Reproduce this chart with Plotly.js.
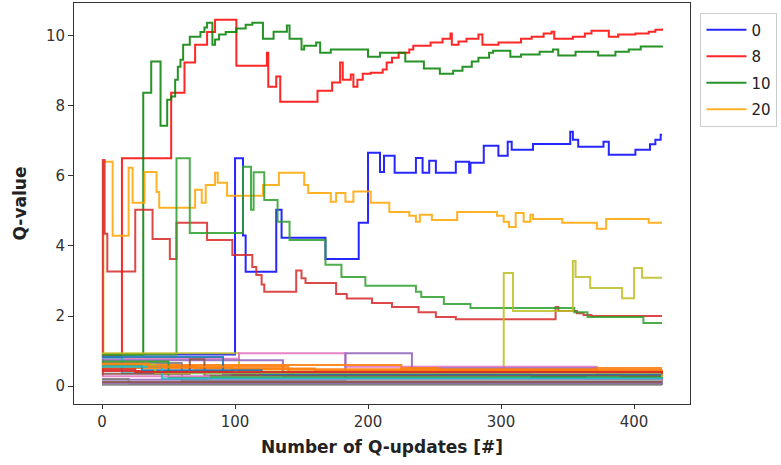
<!DOCTYPE html>
<html>
<head>
<meta charset="utf-8">
<script src="https://cdn.plot.ly/plotly-3.0.1.min.js"></script>
<style>html,body{margin:0;padding:0;background:#fff;}#chart{width:781px;height:465px;}</style>
</head>
<body>
<div id="chart"></div>
<script>
// ---- Labelled series (legend) ----
const blueX = [0,100,106,108,131,135,168,193,200,209,212,220,236,241,246,251,266,276,277,287,298,305,308,324,352,354,358,377,381,401,412,416,420,421];
const blueY = [0.9,6.5,4.3,3.26,5.03,4.23,3.63,4.66,6.66,6.11,6.57,6.09,6.51,6.09,6.43,6.09,6.4,6.09,6.37,6.86,6.57,6.97,6.74,6.91,7.26,7.03,6.83,6.97,6.6,6.74,6.9,7.03,7.17,7.17];

const redX = [0,15,52,62,70,79,85,101,124,125,131,134,162,173,179,181,187,189,192,196,202,211,214,218,223,231,234,247,256,262,263,268,274,283,286,298,315,323,332,338,340,354,363,368,381,388,401,411,416,421];
const redY = [0.9,6.5,8.37,9.23,9.74,10.1,10.45,9.14,9.51,8.54,8.83,8.11,8.43,8.66,9.23,8.74,8.89,8.54,8.74,8.91,8.94,9.03,9.23,9.37,9.51,9.6,9.71,9.8,9.91,10.06,9.74,9.83,9.91,10.03,9.74,9.8,9.91,9.97,10.06,10.11,9.91,9.97,10.06,10.14,9.97,10.03,10.06,10.11,10.17,10.2];

const greenX = [0,31,37,44,49,52,55,57,59,61,66,74,77,79,83,85,88,93,101,108,113,121,129,139,141,150,152,161,164,172,200,209,228,242,254,264,271,278,283,291,294,307,315,329,339,343,356,373,386,396,405,421];
const greenY = [0.9,8.37,9.26,7.43,8.17,8.26,8.74,9.11,9.31,9.74,9.97,10.1,10.23,10.37,9.74,9.89,10.03,10.1,10.2,10.31,10.37,9.91,10.11,10.29,9.91,9.6,9.71,9.8,9.51,9.6,9.4,9.51,9.26,9.06,8.91,9.0,9.11,9.26,9.37,9.51,9.57,9.4,9.46,9.54,9.6,9.43,9.54,9.43,9.54,9.6,9.69,9.71];

const orangeX = [0,1,8,20,23,32,41,43,70,75,78,85,87,94,121,133,152,155,172,176,183,189,202,216,231,236,239,248,267,297,302,306,311,317,322,324,346,372,379,411,421];
const orangeY = [0.9,6.4,4.29,6.23,5.23,6.11,5.54,5.09,5.6,5.23,5.74,6.09,5.8,5.43,5.74,6.09,5.74,5.51,5.26,5.51,5.26,5.55,5.23,4.97,4.86,4.69,4.89,4.74,4.97,4.86,4.69,4.54,4.94,4.69,4.89,4.77,4.66,4.49,4.77,4.66,4.66];

const legendNames = ['0','8','10','20'];
const legendColors = ['#0000ff','#ff0000','#008000','#ffa500'];

// ---- Unlabelled series that leave the bottom band ----
const darkRedX = [0,0.6,2,4,25,38,51,56,79,98,113,116,120,122,146,150,153,176,184,203,218,238,251,266,341,343,357,362,368,421];
const darkRedY = [0.3,6.45,4.35,3.27,5.03,4.2,3.63,4.66,4.17,3.74,3.4,3.17,2.9,2.69,3.3,3.08,2.94,2.63,2.5,2.37,2.26,2.11,1.97,1.91,2.26,2.14,2.08,2.03,2.0,2.0];

const tabGreenX = [0,56,66,106,112,114,122,132,141,168,180,198,236,240,257,277,355,365,407,421];
const tabGreenY = [0.9,6.5,4.37,6.26,5.03,6.1,5.31,4.69,4.17,3.46,3.11,2.86,2.69,2.54,2.34,2.23,2.11,1.97,1.8,1.8];

const oliveX = [0,103,302,309,354,356,367,391,400,406,421];
const oliveY = [0.94,0.42,3.23,2.14,3.57,3.11,2.8,2.51,3.37,3.09,3.09];

// ---- Low-value series (bottom band) ----
const bandColors = ['#e377c2','#9467bd','#9467bd','#ff7f0e','#ff7f0e','#ff7f0e','#17becf','#d62728','#1f77b4','#8c564b','#7f7f7f','#2ca02c','#7f7f7f','#9467bd','#8c564b','#1f77b4','#bcbd22','#e377c2','#17becf','#7f7f7f','#ff7f0e','#d62728'];
const bandX = [
  [0,103,183,372,421],
  [0,136,421],
  [0,183,233,372,421],
  [0,225,253,421],
  [0,98,372,421],
  [0,70,160,421],
  [0,15,293,421],
  [0,98,390,421],
  [0,91,323,363,421],
  [0,66,77,421],
  [0,60,421],
  [0,50,421],
  [0,20,421],
  [0,421],
  [0,421],
  [0,30,120,421],
  [0,40,421],
  [0,80,421],
  [0,45,421],
  [0,421],
  [0,35,140,421],
  [0,25,421]
];
const bandY = [
  [0.78,0.94,0.55,0.33,0.33],
  [0.74,0.3,0.22],
  [0.18,0.94,0.51,0.36,0.36],
  [0.6,0.52,0.46,0.46],
  [0.52,0.48,0.52,0.52],
  [0.56,0.5,0.44,0.4],
  [0.82,0.37,0.3,0.28],
  [0.43,0.32,0.27,0.27],
  [0.83,0.35,0.26,0.2,0.2],
  [0.35,0.77,0.3,0.15],
  [0.66,0.14,0.1],
  [0.7,0.25,0.18],
  [0.2,0.06,0.05],
  [0.09,0.08],
  [0.12,0.12],
  [0.6,0.45,0.34,0.3],
  [0.62,0.38,0.25],
  [0.28,0.2,0.15],
  [0.55,0.22,0.2],
  [0.04,0.03],
  [0.64,0.55,0.42,0.38],
  [0.48,0.4,0.34]
];

const traces = [];
const mainX = [blueX, redX, greenX, orangeX];
const mainY = [blueY, redY, greenY, orangeY];
for (let i = 0; i < 4; i++) {
  traces.push({
    x: mainX[i], y: mainY[i], type: 'scatter', mode: 'lines',
    name: legendNames[i], legendgroup: 'g' + i,
    line: {color: legendColors[i], width: 2, shape: 'hv'}, opacity: 0.85
  });
}
const extraX = [darkRedX, tabGreenX, oliveX];
const extraY = [darkRedY, tabGreenY, oliveY];
const extraC = ['#d62728', '#2ca02c', '#bcbd22'];
for (let i = 0; i < 3; i++) {
  traces.push({
    x: extraX[i], y: extraY[i], type: 'scatter', mode: 'lines', showlegend: false,
    line: {color: extraC[i], width: 2, shape: 'hv'}, opacity: 0.85
  });
}
for (let i = 0; i < bandX.length; i++) {
  traces.push({
    x: bandX[i], y: bandY[i], type: 'scatter', mode: 'lines', showlegend: false,
    line: {color: bandColors[i], width: 2, shape: 'hv'}, opacity: 0.9
  });
}

const axisCommon = {
  showline: true, mirror: true, linecolor: '#333', linewidth: 1,
  ticks: 'outside', ticklen: 5, tickwidth: 1, tickcolor: '#333',
  showgrid: false, zeroline: false,
  tickfont: {family: 'DejaVu Sans', size: 15, color: '#333'}
};

const layout = {
  width: 781, height: 465,
  margin: {l: 74, r: 91, t: 3, b: 61},
  paper_bgcolor: '#fff', plot_bgcolor: '#fff',
  font: {family: 'DejaVu Sans', color: '#222'},
  showlegend: true,
  legend: {
    x: 1.017, xanchor: 'left', y: 0.976, yanchor: 'top',
    bordercolor: '#ccc', borderwidth: 1, bgcolor: '#fff',
    font: {family: 'DejaVu Sans', size: 15, color: '#222'},
    traceorder: 'grouped', tracegroupgap: 4, itemwidth: 40
  },
  xaxis: Object.assign({}, axisCommon, {
    range: [-21.05, 442.05],
    tickvals: [0, 100, 200, 300, 400],
    ticklen: 4,
    title: {text: '<b>Number of Q-updates [#]</b>', font: {family: 'DejaVu Sans', size: 17, color: '#222'}, standoff: 11}
  }),
  yaxis: Object.assign({}, axisCommon, {
    range: [-0.51, 10.93],
    tickvals: [0, 2, 4, 6, 8, 10],
    title: {text: '<b>Q-value</b>', font: {family: 'DejaVu Sans', size: 17, color: '#222'}, standoff: 14}
  })
};

Plotly.newPlot('chart', traces, layout, {displayModeBar: false, staticPlot: true});
</script>
</body>
</html>
